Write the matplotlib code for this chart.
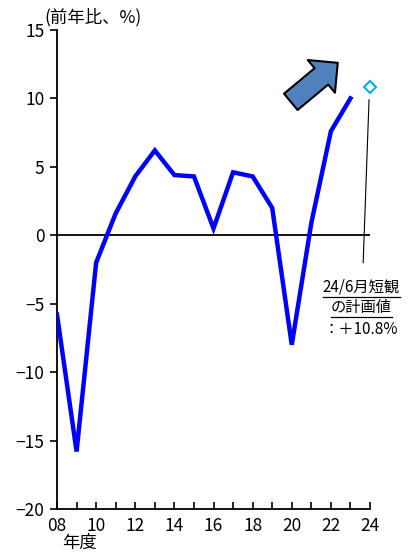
import matplotlib
matplotlib.use("Agg")
import matplotlib.pyplot as plt
import numpy as np

plt.rcParams['font.family'] = ['Noto Sans CJK JP', 'DejaVu Sans']

# 設備投資計画 (前年比、%)
years = [8, 9, 10, 11, 12, 13, 14, 15, 16, 17, 18, 19, 20, 21, 22, 23]
growth = [-5.8, -15.8, -2.0, 1.6, 4.3, 6.2, 4.4, 4.3, 0.5, 4.6, 4.3, 2.0, -8.0, 0.9, 7.6, 10.0]
plan_year = 24
plan_value = 10.8
xtick_vals = [8, 10, 12, 14, 16, 18, 20, 22, 24]
xtick_labels = ['08', '10', '12', '14', '16', '18', '20', '22', '24']
yticks = [15, 10, 5, 0, -5, -10, -15, -20]

fig = plt.figure(figsize=(4.18, 5.52), dpi=100)
ax = fig.add_axes([0.1364, 0.0779, 0.7488, 0.8678])

ax.axhline(0, color='black', lw=1.3, zorder=1)
ax.plot(years, growth, color='#0000FF', lw=3.2, solid_joinstyle='miter', zorder=3)
ax.plot([plan_year], [plan_value], marker='D', ms=6, mfc='white', mec='#00B0F0',
        mew=1.5, ls='none', zorder=4, clip_on=False)

ax.set_xlim(8, 24)
ax.set_ylim(-20, 15)
ax.set_xticks(xtick_vals)
ax.set_xticklabels(xtick_labels)
ax.set_xticks(np.arange(8, 25, 1), minor=True)
ax.set_yticks(yticks)
ax.set_yticklabels([str(v).replace('-', '−') for v in yticks])
ax.tick_params(axis='x', direction='in', length=5, width=1.2, labelsize=12.5, pad=6)
ax.tick_params(axis='x', which='minor', direction='in', length=5, width=1.2)
ax.tick_params(axis='y', direction='out', length=5, width=1.2, labelsize=12.5, pad=4)
for s in ['top', 'right']:
    ax.spines[s].set_visible(False)
for s in ['left', 'bottom']:
    ax.spines[s].set_linewidth(1.3)

fig.text(0.105, 0.969, '(前年比、%)', fontsize=12.5, ha='left', va='center')
fig.text(0.148, 0.016, '年度', fontsize=12.5, ha='left', va='center')

# arrow
ax.annotate('', xy=(22.35, 12.6), xytext=(19.95, 9.75),
            arrowprops=dict(arrowstyle='simple,head_length=0.85,head_width=1.7,tail_width=0.85',
                            fc='#4F81BD', ec='black', lw=1.5, mutation_scale=18,
                            shrinkA=0, shrinkB=0))

# leader line
ax.plot([23.95, 23.65], [9.9, -2.0], color='black', lw=0.8, clip_on=False)

# annotation
lines = ['24/6月短観', 'の計画値', '：＋10.8%']
ys = [-3.8, -5.3, -6.85]
texts = []
for t, yv in zip(lines, ys):
    texts.append(ax.text(23.55, yv, t, fontsize=11, ha='center', va='center'))

fig.canvas.draw()
r = fig.canvas.get_renderer()
for t in texts[:2]:
    bb = t.get_window_extent(r)
    y0 = bb.y0 - 1
    fig.add_artist(plt.Line2D([bb.x0 / fig.bbox.width, bb.x1 / fig.bbox.width],
                              [y0 / fig.bbox.height, y0 / fig.bbox.height],
                              color='black', lw=0.9))

fig.savefig('out.png', dpi=100)
